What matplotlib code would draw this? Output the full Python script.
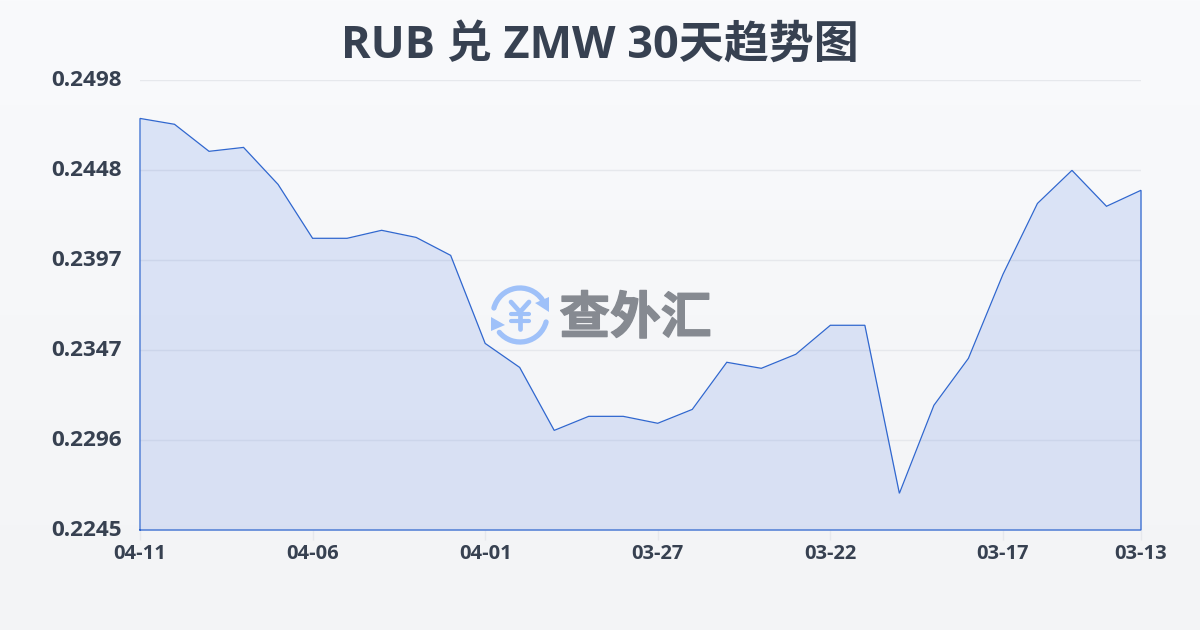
import matplotlib
matplotlib.use("Agg")
import matplotlib.pyplot as plt
import matplotlib.patheffects as pe
import matplotlib.transforms as mtrans
import numpy as np
from matplotlib.patches import Arc, Polygon

FONT = ["Open Sans", "Noto Sans CJK SC", "DejaVu Sans"]
plt.rcParams["font.family"] = FONT

title = "RUB 兑 ZMW 30天趋势图"
values = [
    0.24764, 0.24731, 0.24579, 0.24601, 0.24393, 0.24090, 0.24090, 0.24135,
    0.24095, 0.23994, 0.23499, 0.23364, 0.23010, 0.23089, 0.23089, 0.23050,
    0.23128, 0.23393, 0.23359, 0.23438, 0.23601, 0.23601, 0.22656, 0.23151,
    0.23415, 0.23887, 0.24286, 0.24472, 0.24270, 0.24360,
]
x_labels = ["04-11", "04-06", "04-01", "03-27", "03-22", "03-17", "03-13"]
x_ticks = [0, 5, 10, 15, 20, 25, 29]
y_labels = ["0.2245", "0.2296", "0.2347", "0.2397", "0.2448", "0.2498"]
y_min = 0.2245
y_max = 0.2498

TEXT = "#374151"
LINE = "#3067cf"
GRID = "#e6e8ec"
LOGO = "#9fc1f9"


def draw_background(fig):
    bg = fig.add_axes([0, 0, 1, 1], zorder=0)
    top = np.array([0xf9, 0xfa, 0xfc]) / 255
    bottom = np.array([0xf3, 0xf4, 0xf6]) / 255
    t = np.linspace(0, 1, 630)[:, None, None]
    bg.imshow(top + (bottom - top) * t, aspect="auto")
    bg.axis("off")


def draw_chart(fig):
    ax = fig.add_axes([140 / 1200, 1 - 530 / 630, 1001 / 1200, 450 / 630], zorder=1)
    ax.patch.set_alpha(0)
    xs = np.arange(len(values))
    y_ticks = np.linspace(y_min, y_max, len(y_labels))

    ax.set_xlim(0, len(values) - 1)
    ax.set_ylim(y_min, y_max)
    ax.fill_between(xs, values, y_min, color="#3a6be0", alpha=0.15, lw=0, zorder=2)
    ax.plot(
        np.r_[xs[0], xs, xs[-1], xs[0]],
        np.r_[y_min, values, y_min, y_min],
        color=LINE, lw=0.9, solid_joinstyle="miter", zorder=3, clip_on=False,
    )

    ax.set_yticks(y_ticks, y_labels)
    ax.set_xticks(x_ticks, x_labels)
    ax.grid(axis="y", color=GRID, lw=1, zorder=1)
    ax.tick_params(axis="y", length=0, pad=13, labelsize=16.2, labelcolor=TEXT)
    ax.tick_params(axis="x", length=7, width=1, color=GRID, pad=3, labelsize=14.5, labelcolor=TEXT)
    up = mtrans.ScaledTranslation(0, 2 / 100, fig.dpi_scale_trans)
    for label in ax.get_yticklabels():
        label.set_fontweight("bold")
        label.set_transform(label.get_transform() + up)
    for label in ax.get_xticklabels():
        label.set_fontweight("bold")
    for spine in ax.spines.values():
        spine.set_visible(False)


def draw_logo(fig):
    # overlay in pixel coordinates of the picture
    ov = fig.add_axes([0, 0, 1, 1], zorder=2)
    ov.set_xlim(0, 1200)
    ov.set_ylim(630, 0)
    ov.axis("off")

    # the y axis is inverted, so arc angles run clockwise from the right
    ov.add_patch(Arc((520, 315), 54, 54, theta1=195, theta2=325, color=LOGO, lw=3.8, capstyle="round"))
    ov.add_patch(Arc((520, 315), 54, 54, theta1=15, theta2=140, color=LOGO, lw=3.8, capstyle="round"))
    ov.add_patch(Polygon([(549, 297), (549, 312), (535, 303)], color=LOGO, lw=0))
    ov.add_patch(Polygon([(491, 317), (491, 331), (505, 325)], color=LOGO, lw=0))

    ov.plot([511, 520, 529], [302, 312, 302], color=LOGO, lw=3.4, solid_capstyle="round")
    ov.plot([520, 520], [312, 329], color=LOGO, lw=3.4, solid_capstyle="round")
    ov.plot([511, 529], [314, 314], color=LOGO, lw=3, solid_capstyle="round")
    ov.plot([511, 529], [321, 321], color=LOGO, lw=3, solid_capstyle="round")

    ov.text(635.5, 319, "查外汇", fontsize=36.5, fontweight="bold", color="#868a91",
            ha="center", va="center", family=["Noto Sans CJK SC", "DejaVu Sans"],
            path_effects=[pe.withStroke(linewidth=1, foreground="#868a91")])


def main():
    fig = plt.figure(figsize=(12, 6.3), dpi=100)
    draw_background(fig)
    draw_chart(fig)
    draw_logo(fig)
    fig.text(0.5, 1 - 46 / 630, title, fontsize=32.4, fontweight="bold", color=TEXT,
             ha="center", va="center", zorder=5)
    fig.savefig("out.png", dpi=100)


if __name__ == "__main__":
    main()
